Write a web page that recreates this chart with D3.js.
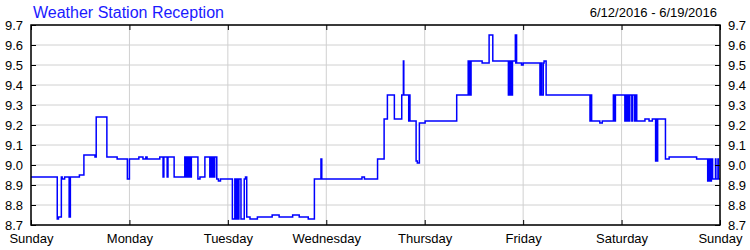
<!DOCTYPE html>
<html>
<head>
<meta charset="utf-8">
<script src="https://cdn.jsdelivr.net/npm/d3@7"></script>
<style>
  body { margin: 0; background: #fff; }
  svg { display: block; font-family: "Liberation Sans", Arial, sans-serif; }
  .grid line { stroke: #d0d0d0; stroke-width: 1; }
  .axis path { display: none; }
  .axis line { stroke: #000; }
  .axis text { fill: #000; font-size: 13px; }
</style>
</head>
<body>
<div id="chart"><svg></svg></div>
<script>
// margins
var W = 750, H = 250;
var T = 25, L = 31, R = 30, B = 25;

var title = "Weather Station Reception";
var dateRange = "6/12/2016 - 6/19/2016";
var dayNames = ["Sunday", "Monday", "Tuesday", "Wednesday", "Thursday", "Friday", "Saturday", "Sunday"];
var yTicks = [8.7, 8.8, 8.9, 9.0, 9.1, 9.2, 9.3, 9.4, 9.5, 9.6, 9.7];

// hours since Sunday 00:00 and reading at that moment (step)
var hours = [0, 6.4, 6.7, 7.4, 7.6, 8.2, 9.3, 9.6, 11.8, 12.9, 15.6, 15.9, 18.5, 21.0, 23.5, 24.0,
  26.3, 27.3, 28.0, 28.3, 31.4, 32.2, 32.4, 33.2, 33.4, 34.9, 37.5, 37.7, 37.9, 38.1, 38.3, 38.5,
  38.7, 38.9, 39.1, 40.7, 41.2, 42.4, 43.6, 43.8, 44.1, 44.3, 44.6, 44.8, 45.3, 45.7, 46.2,
  49.1, 49.7, 50.0, 50.2, 50.5, 50.7, 51.2, 52.0, 52.3, 52.6, 53.4, 55.2, 58.8, 60.5, 63.8,
  65.4, 67.6, 69.1, 70.7, 70.9, 80.7, 81.3, 84.5, 86.1, 86.9, 88.6, 90.4, 90.8, 90.9, 92.1,
  92.2, 92.4, 93.9, 94.2, 94.7, 96.1, 103.8, 106.6, 106.8, 107.0, 107.1, 107.3, 110.0, 111.7,
  112.6, 116.4, 116.6, 116.7, 117.0, 117.2, 117.4, 118.1, 118.2, 118.3, 118.4, 119.6, 120.0,
  124.1, 124.3, 124.5, 124.9, 125.1, 125.6, 136.3, 136.5, 136.7, 138.7, 139.3, 142.0, 142.2,
  142.5, 144.8, 145.0, 145.3, 145.5, 145.8, 146.0, 146.5, 146.7, 147.2, 147.4, 147.7, 149.7,
  150.7, 151.5, 152.3, 152.5, 152.6, 152.8, 154.7, 155.6, 162.3, 165.0, 165.3, 165.6, 165.9,
  166.2, 166.9, 167.0, 167.5, 167.6, 168];
var signal = [8.94, 8.73, 8.74, 8.94, 8.93, 8.94, 8.74, 8.94, 8.95, 9.05, 9.04, 9.24, 9.04, 9.03, 8.93, 9.03,
  9.04, 9.03, 9.04, 9.03, 9.04, 8.94, 9.04, 8.94, 9.04, 8.94, 9.04, 8.94, 9.04, 8.94, 9.04, 8.94,
  9.04, 8.94, 9.04, 8.93, 8.94, 9.04, 8.94, 9.04, 8.94, 9.04, 8.94, 9.04, 8.93, 8.92, 8.93,
  8.73, 8.93, 8.73, 8.93, 8.73, 8.93, 8.73, 8.93, 8.94, 8.74, 8.73, 8.74, 8.75, 8.74, 8.75,
  8.74, 8.73, 8.93, 9.03, 8.93, 8.94, 8.93, 9.03, 9.23, 9.35, 9.23, 9.35, 9.52, 9.35, 9.22,
  9.35, 9.22, 9.02, 9.01, 9.21, 9.22, 9.35, 9.52, 9.35, 9.52, 9.35, 9.52, 9.51, 9.65,
  9.52, 9.35, 9.52, 9.35, 9.52, 9.35, 9.52, 9.65, 9.51, 9.65, 9.51, 9.50, 9.51,
  9.35, 9.51, 9.35, 9.51, 9.52, 9.35, 9.22, 9.35, 9.22, 9.21, 9.22, 9.35, 9.22,
  9.35, 9.22, 9.35, 9.22, 9.35, 9.22, 9.35, 9.22, 9.35, 9.22, 9.35, 9.22, 9.23,
  9.22, 9.23, 9.02, 9.23, 9.02, 9.23, 9.03, 9.04, 9.03, 8.92, 9.03, 8.92, 9.03,
  8.93, 9.03, 8.93, 9.03, 8.93, 8.93];

var data = hours.map(function(h, i) { return { h: h, v: signal[i] }; });

var x = d3.scaleLinear().domain([0, 168]).range([L, W - R]);
var y = d3.scaleLinear().domain([8.7, 9.7]).range([H - B, T]);
var dayTicks = d3.range(0, 169, 24);

var svg = d3.select("#chart svg").attr("width", W).attr("height", H);

// grid
var grid = svg.append("g").attr("class", "grid");
grid.selectAll("line.v").data(dayTicks).enter().append("line")
    .attr("class", "v")
    .attr("x1", function(d) { return x(d); }).attr("x2", function(d) { return x(d); })
    .attr("y1", T).attr("y2", H - B);
grid.selectAll("line.h").data(yTicks).enter().append("line")
    .attr("class", "h")
    .attr("x1", L).attr("x2", W - R)
    .attr("y1", function(d) { return y(d); }).attr("y2", function(d) { return y(d); });

// data line
var line = d3.line()
    .x(function(d) { return x(d.h); })
    .y(function(d) { return y(d.v); })
    .curve(d3.curveStepAfter);
svg.append("path").datum(data)
    .attr("fill", "none")
    .attr("stroke", "#0000ff")
    .attr("stroke-width", 1.5)
    .attr("d", line);

// axes (ticks point inward)
var fmtDay = function(d) { return dayNames[d / 24]; };
svg.append("g").attr("class", "axis")
    .attr("transform", "translate(0," + (H - B) + ")")
    .call(d3.axisBottom(x).tickValues(dayTicks).tickFormat(fmtDay).tickSizeInner(-5).tickPadding(9));
svg.append("g").attr("class", "axis")
    .attr("transform", "translate(0," + T + ")")
    .call(d3.axisTop(x).tickValues(dayTicks).tickFormat("").tickSizeInner(-5));
svg.append("g").attr("class", "axis")
    .attr("transform", "translate(" + L + ",0)")
    .call(d3.axisLeft(y).tickValues(yTicks).tickFormat(d3.format(".1f")).tickSizeInner(-5).tickPadding(8));
svg.append("g").attr("class", "axis")
    .attr("transform", "translate(" + (W - R) + ",0)")
    .call(d3.axisRight(y).tickValues(yTicks).tickFormat(d3.format(".1f")).tickSizeInner(-5).tickPadding(8));

// frame
svg.append("rect")
    .attr("x", L).attr("y", T)
    .attr("width", W - R - L).attr("height", H - B - T)
    .attr("fill", "none").attr("stroke", "#000").attr("stroke-width", 1.5);

// titles
svg.append("text").attr("x", 33).attr("y", 18)
    .attr("fill", "#1a1aff").attr("font-size", 16).text(title);
svg.append("text").attr("x", 717).attr("y", 17).attr("text-anchor", "end")
    .attr("fill", "#000").attr("font-size", 13).text(dateRange);
</script>
</body>
</html>
